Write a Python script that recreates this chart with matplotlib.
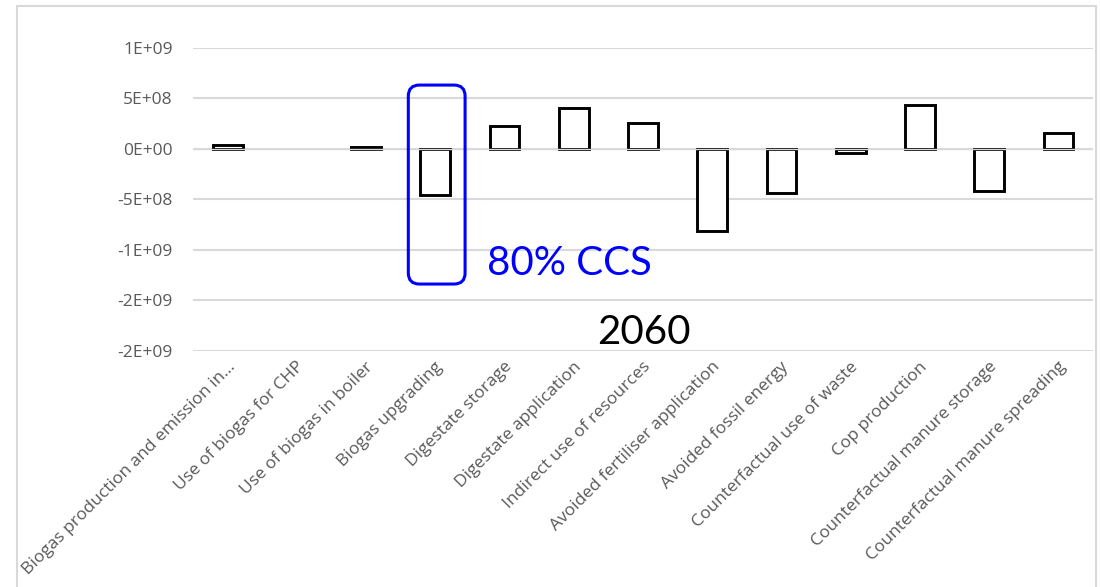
import matplotlib
matplotlib.use("Agg")
import matplotlib.pyplot as plt
import matplotlib.transforms as mtransforms
from matplotlib.patches import FancyBboxPatch, Rectangle
from matplotlib.ticker import FuncFormatter

# contribution of each process step (2060 scenario)
categories = [
    "Biogas production and emission in...",
    "Use of biogas for CHP",
    "Use of biogas in boiler",
    "Biogas upgrading",
    "Digestate storage",
    "Digestate application",
    "Indirect use of resources",
    "Avoided fertiliser application",
    "Avoided fossil energy",
    "Counterfactual use of waste",
    "Cop production",
    "Counterfactual manure storage",
    "Counterfactual manure spreading",
]
values = [3.5e7, 0.0, 1.5e7, -4.6e8, 2.2e8, 4.0e8, 2.5e8,
          -8.1e8, -4.4e8, -4.0e7, 4.35e8, -4.2e8, 1.55e8]
y_ticks = [1e9, 5e8, 0, -5e8, -1e9, -1.5e9, -2e9]
highlight = "Biogas upgrading"
ccs_label = "80% CCS"
year_label = "2060"

W, H = 1100, 587
fig = plt.figure(figsize=(W / 100, H / 100), dpi=100)
ax = fig.add_axes([193 / W, 1 - 350.7 / H, 900 / W, (350.7 - 47.7) / H])

x = list(range(len(categories)))
edge = ["black" if v != 0 else "none" for v in values]
ax.bar(x, values, width=0.43, color="white", edgecolor=edge,
       linewidth=2.1, zorder=3)
ax.axhline(0, color="#d9d9d9", linewidth=1.0, zorder=4)

ax.set_xlim(-0.5, len(categories) - 0.5)
ax.set_ylim(-2e9, 1e9)
ax.set_yticks(y_ticks)


def excel_sci(v, pos):
    if v == 0:
        return "0E+00"
    s = "%.0E" % v
    mant, exp = s.split("E")
    sign = exp[0]
    return "%sE%s%02d" % (mant, sign, abs(int(exp)))


ax.yaxis.set_major_formatter(FuncFormatter(excel_sci))
ax.grid(axis="y", color="#d9d9d9", linewidth=1.5, zorder=0)
ax.set_axisbelow(True)
for s in ax.spines.values():
    s.set_visible(False)
ax.tick_params(axis="both", length=0, colors="#595959", labelsize=12.5)
ax.tick_params(axis="y", pad=14.5)

ax.set_xticks(x)
ax.set_xticklabels(categories, rotation=45, ha="right", va="center",
                   rotation_mode="anchor", fontsize=12.5, color="#595959")
shift = mtransforms.ScaledTranslation(5 / 100, -9 / 100, fig.dpi_scale_trans)
for lbl in ax.get_xticklabels():
    lbl.set_transform(lbl.get_transform() + shift)
for lbl in ax.get_xticklabels() + ax.get_yticklabels():
    lbl.set_fontfamily("Open Sans")

# hand drawn style loop around the highlighted bar
hx = categories.index(highlight)
loop = FancyBboxPatch((hx - 0.39, -1.34e9), 0.82, 1.97e9,
                      boxstyle="round,pad=0,rounding_size=0.16",
                      mutation_aspect=6.85e8,
                      facecolor="none", edgecolor="#0000ff",
                      linewidth=2.2, zorder=5, clip_on=False)
ax.add_patch(loop)

ax.text(3.75, -1.254e9, ccs_label, color="#0000ff", fontsize=29,
        fontfamily="Lato", ha="left", va="baseline", zorder=6)
ax.text(5.34, -1.93e9, year_label, color="black", fontsize=29,
        fontfamily="Lato", ha="left", va="baseline", zorder=6)

# chart area border
fig.patches.append(Rectangle((17 / W, -0.1), (1096 - 17) / W, 1.1 - 6 / H,
                             transform=fig.transFigure, fill=False,
                             edgecolor="#d9d9d9", linewidth=1.5))

fig.savefig("out.png", dpi=100, facecolor="white")
